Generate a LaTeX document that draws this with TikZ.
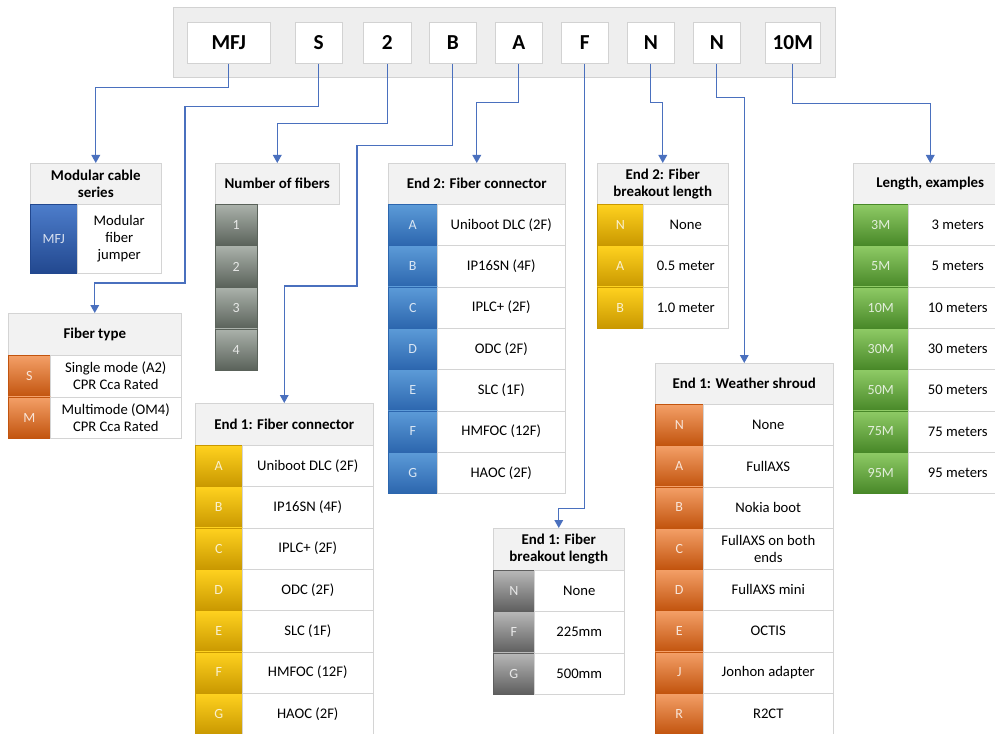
\documentclass[tikz,border=0pt]{standalone}
\usepackage{fontspec}
\setmainfont{Carlito}
\usetikzlibrary{arrows.meta}
\definecolor{cellline}{HTML}{D4D4D4}
\definecolor{hdrfill}{HTML}{F2F2F2}
\definecolor{barfill}{HTML}{EEEEEE}
\definecolor{barline}{HTML}{D2D2D2}
\definecolor{connblue}{HTML}{4A70BE}
\definecolor{bluetop}{HTML}{5C9BD8}
\definecolor{bluebot}{HTML}{2C66AE}
\definecolor{mfjtop}{HTML}{4D7DCB}
\definecolor{mfjbot}{HTML}{22488F}
\definecolor{yeltop}{HTML}{FFD21F}
\definecolor{yelbot}{HTML}{C99800}
\definecolor{orgtop}{HTML}{F4A068}
\definecolor{orgbot}{HTML}{C2540E}
\definecolor{grytop}{HTML}{B8B8B8}
\definecolor{grybot}{HTML}{5E5E5E}
\definecolor{gnftop}{HTML}{ABB2AB}
\definecolor{gnfbot}{HTML}{5A625A}
\definecolor{grntop}{HTML}{8FCB66}
\definecolor{grnbot}{HTML}{488828}
\newcommand\hdrfont{\fontsize{11.2}{13}\selectfont\bfseries}
\newcommand\valfont{\fontsize{11}{13}\selectfont}
\newcommand\keyfont{\fontsize{10.5}{12}\selectfont}
\newcommand\topfont{\fontsize{16}{18}\selectfont\bfseries}
\def\rowh{41.25}
\newcommand\codetable[9]{%
  \node[hdr, minimum width={(#4-#2)*0.75pt}, minimum height={#6*0.75pt}] (#1) at (#2,#5) {#7};
  \foreach \k/\v [count=\i from 0] in {#9} {
    \node[keycell=#8, minimum width={(#3-#2)*0.75pt}, minimum height={\rowh*0.75pt}] (#1-k\i) at (#2,{#5+#6+\rowh*\i}) {\k};
    \node[valcell, minimum width={(#4-#3)*0.75pt}, minimum height={\rowh*0.75pt}] (#1-v\i) at (#3,{#5+#6+\rowh*\i}) {\v};
  }}
\begin{document}
\begin{tikzpicture}[x=0.75pt,y=-0.75pt,
  hdr/.style={draw=cellline, fill=hdrfill, anchor=north west, inner sep=1pt, align=center, font=\hdrfont},
  keycell/.style={anchor=north west, inner sep=0pt, top color=#1top, bottom color=#1bot, draw=#1bot, text=white, text opacity=0.8, font=\keyfont},
  valcell/.style={anchor=north west, inner sep=1pt, draw=cellline, fill=white, align=center, font=\valfont},
  topbox/.style={anchor=north west, inner sep=0pt, draw=barline, fill=white, minimum height=41*0.75pt, font=\topfont},
  conn/.style={draw=connblue, line width=0.9pt, -{Triangle[length=6pt,width=6.5pt]}}]
\useasboundingbox (0,0) rectangle (995,734);
\fill[white] (0,0) rectangle (995,734);

% top bar
\node[anchor=north west, inner sep=0pt, draw=barline, fill=barfill, minimum width=662*0.75pt, minimum height=70*0.75pt] (bar) at (173,7) {};
\node[topbox, minimum width=83*0.75pt] (bMFJ) at (187,22) {MFJ};
\node[topbox, minimum width=47*0.75pt] (bS) at (295,22) {S};
\node[topbox, minimum width=48*0.75pt] (b2) at (363,22) {2};
\node[topbox, minimum width=47*0.75pt] (bB) at (429,22) {B};
\node[topbox, minimum width=47*0.75pt] (bA) at (495,22) {A};
\node[topbox, minimum width=47*0.75pt] (bF) at (561,22) {F};
\node[topbox, minimum width=47*0.75pt] (bN1) at (627,22) {N};
\node[topbox, minimum width=47*0.75pt] (bN2) at (693,22) {N};
\node[topbox, minimum width=55*0.75pt] (b10) at (765,22) {10M};

% tables
\def\rowh{69}
\codetable{mcs}{30}{77}{161}{163}{41}{Modular cable\\series}{mfj}{MFJ/Modular\\fiber\\jumper}
\def\rowh{41.5}
\codetable{ft}{8}{50}{181}{313}{42}{Fiber type}{org}{S/Single mode (A2)\\CPR Cca Rated, M/Multimode (OM4)\\CPR Cca Rated}
% number of fibers
\node[hdr, minimum width=124*0.75pt, minimum height=41*0.75pt] (nf) at (215,163) {Number of fibers};
\foreach \k [count=\i from 0] in {1,2,3,4} {
  \node[keycell=gnf, minimum width=42*0.75pt, minimum height=41.5*0.75pt] (nf-k\i) at (215,{204+41.5*\i}) {\k};
}
\def\rowh{41.3}
\codetable{e2c}{388}{437}{565}{163}{41}{End 2: Fiber connector}{blue}{A/Uniboot DLC (2F), B/IP16SN (4F), C/IPLC+ (2F), D/ODC (2F), E/SLC (1F), F/HMFOC (12F), G/HAOC (2F)}
\codetable{e2b}{597}{643}{728}{163}{41}{End 2: Fiber\\breakout length}{yel}{N/None, A/0.5 meter, B/1.0 meter}
\codetable{len}{853}{908}{1007}{163}{41}{Length, examples}{grn}{3M/3 meters, 5M/5 meters, 10M/10 meters, 30M/30 meters, 50M/50 meters, 75M/75 meters, 95M/95 meters}
\codetable{e1c}{195}{242}{373}{403}{42}{End 1: Fiber connector}{yel}{A/Uniboot DLC (2F), B/IP16SN (4F), C/IPLC+ (2F), D/ODC (2F), E/SLC (1F), F/HMFOC (12F), G/HAOC (2F)}
\codetable{e1b}{493}{534}{624}{528}{42}{End 1: Fiber\\breakout length}{gry}{N/None, F/225mm, G/500mm}
\def\rowh{41.25}
\codetable{ws}{655}{703}{833}{363}{41}{End 1: Weather shroud}{org}{N/None, A/FullAXS, B/Nokia boot, C/FullAXS on both\\ends, D/FullAXS mini, E/OCTIS, J/Jonhon adapter, R/R2CT}

% connectors
\draw[conn] (bMFJ.south) -- ++(0,24) -| (mcs.north);
\draw[conn] (bS.south) -- ++(0,43) -| (185,283) -| (ft.north);
\draw[conn] (b2.south) -- ++(0,60) -| (nf.north);
\draw[conn] (bB.south) -- ++(0,82) -| (357,286) -| (e1c.north);
\draw[conn] (bA.south) -- ++(0,39) -| (e2c.north);
\draw[conn] (bF.south) -- ++(0,445) -| (e1b.north);
\draw[conn] (bN1.south) -- ++(0,39) -| (e2b.north);
\draw[conn] (bN2.south) -- ++(0,34) -| (ws.north);
\draw[conn] (b10.south) -- ++(0,40) -| (len.north);
\end{tikzpicture}
\end{document}
